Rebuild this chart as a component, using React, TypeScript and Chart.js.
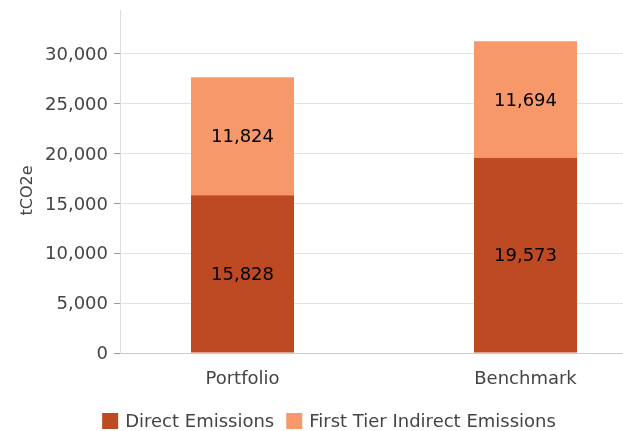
import React, { useEffect, useRef } from "react";
import { Chart, registerables } from "chart.js";

Chart.register(...registerables);

const categories = ["Portfolio", "Benchmark"];
const directEmissions = [15828, 19573];
const indirectEmissions = [11824, 11694];
const seriesNames = ["Direct Emissions", "First Tier Indirect Emissions"];
const yTicks = [0, 5000, 10000, 15000, 20000, 25000, 30000];
const yTitle = "tCO2e";

const FONT = "'DejaVu Sans', sans-serif";
const DARK = "#bd4a22";
const LIGHT = "#f6986a";
const TEXT = "#444444";

const fmt = (v: number) => v.toLocaleString("en-US");

const overlayPlugin = {
  id: "overlay",
  afterDatasetsDraw(chart: any) {
    const ctx = chart.ctx;
    ctx.save();
    ctx.font = `18px ${FONT}`;
    ctx.fillStyle = "#000";
    ctx.textAlign = "center";
    ctx.textBaseline = "middle";
    chart.data.datasets.forEach((ds: any, di: number) => {
      const meta = chart.getDatasetMeta(di);
      meta.data.forEach((bar: any, i: number) => {
        const v = ds.data[i].y;
        const cy = (bar.y + bar.base) / 2 + 1.5;
        ctx.fillText(fmt(v), bar.x, cy);
      });
    });
    ctx.restore();
  },
  afterDraw(chart: any) {
    const ctx = chart.ctx;
    const area = chart.chartArea;
    ctx.save();
    // y-axis title
    ctx.font = `16px ${FONT}`;
    ctx.fillStyle = TEXT;
    ctx.textAlign = "center";
    ctx.textBaseline = "middle";
    ctx.translate(28, (area.top + area.bottom) / 2 + 9);
    ctx.rotate(-Math.PI / 2);
    ctx.fillText(yTitle, 0, 0);
    ctx.restore();

    // legend
    ctx.save();
    ctx.font = `18px ${FONT}`;
    ctx.textBaseline = "middle";
    ctx.textAlign = "left";
    const box = 16;
    const gap = 7;
    const spacing = 12;
    const items = chart.data.datasets.map((ds: any) => ({
      label: ds.label,
      color: ds.backgroundColor,
      w: box + gap + ctx.measureText(ds.label).width,
    }));
    const total = items.reduce((s: number, it: any) => s + it.w, 0) + spacing * (items.length - 1);
    let x = 329 - total / 2;
    const cy = 421;
    items.forEach((it: any) => {
      ctx.fillStyle = it.color;
      ctx.fillRect(x, cy - box / 2, box, box);
      ctx.fillStyle = TEXT;
      ctx.fillText(it.label, x + box + gap, cy + 1);
      x += it.w + spacing;
    });
    ctx.restore();
  },
};

export default function App() {
  const ref = useRef<HTMLCanvasElement | null>(null);

  useEffect(() => {
    if (!ref.current) return;
    const total = Math.max(...directEmissions.map((d, i) => d + indirectEmissions[i]));
    const chart = new Chart(ref.current, {
      type: "bar",
      data: {
        datasets: [
          {
            label: seriesNames[0],
            data: directEmissions.map((y, i) => ({ x: i, y })),
            backgroundColor: DARK,
            borderWidth: 0,
            barPercentage: 0.364,
            categoryPercentage: 1,
          },
          {
            label: seriesNames[1],
            data: indirectEmissions.map((y, i) => ({ x: i, y })),
            backgroundColor: LIGHT,
            borderWidth: 0,
            barPercentage: 0.364,
            categoryPercentage: 1,
          },
        ],
      },
      options: {
        animation: false,
        responsive: false,
        layout: { padding: { top: 10, left: 0, right: 0, bottom: 0 } },
        plugins: {
          legend: { display: false },
          tooltip: { enabled: false },
        },
        scales: {
          x: {
            type: "linear",
            stacked: true,
            offset: false,
            min: -0.4329,
            max: 1.3445,
            grid: { display: false },
            border: { display: true, color: "#cccccc", width: 1 },
            afterBuildTicks: (scale: any) => {
              scale.ticks = categories.map((_, i) => ({ value: i }));
            },
            afterFit: (scale: any) => {
              scale.height = 78;
              scale.paddingLeft = 0;
              scale.paddingRight = 0;
            },
            ticks: {
              callback: (v: any) => categories[Math.round(v)] ?? "",
              font: { family: FONT, size: 18 },
              color: TEXT,
              padding: 8,
              maxRotation: 0,
              autoSkip: false,
            },
          },
          y: {
            stacked: true,
            min: 0,
            max: total * 1.1,
            afterBuildTicks: (scale: any) => {
              scale.ticks = yTicks.map((v) => ({ value: v }));
            },
            afterFit: (scale: any) => {
              scale.width = 120;
              scale.paddingTop = 0;
              scale.paddingBottom = 0;
            },
            grid: {
              color: "#e3e3e3",
              tickColor: "#999999",
              tickLength: 6,
              drawTicks: true,
            },
            border: { display: true, color: "#dddddd", width: 1 },
            ticks: {
              includeBounds: false,
              callback: (v: any) => fmt(Number(v)),
              font: { family: FONT, size: 18 },
              color: TEXT,
              padding: 6,
              labelOffset: 1.5,
            },
          },
        },
      },
      plugins: [overlayPlugin],
    } as any);
    return () => chart.destroy();
  }, []);

  return (
    <div style={{ position: "fixed", left: 0, top: 0, width: 623, height: 431, background: "#fff" }}>
      <canvas ref={ref} width={623} height={431} style={{ display: "block", width: 623, height: 431 }} />
    </div>
  );
}
